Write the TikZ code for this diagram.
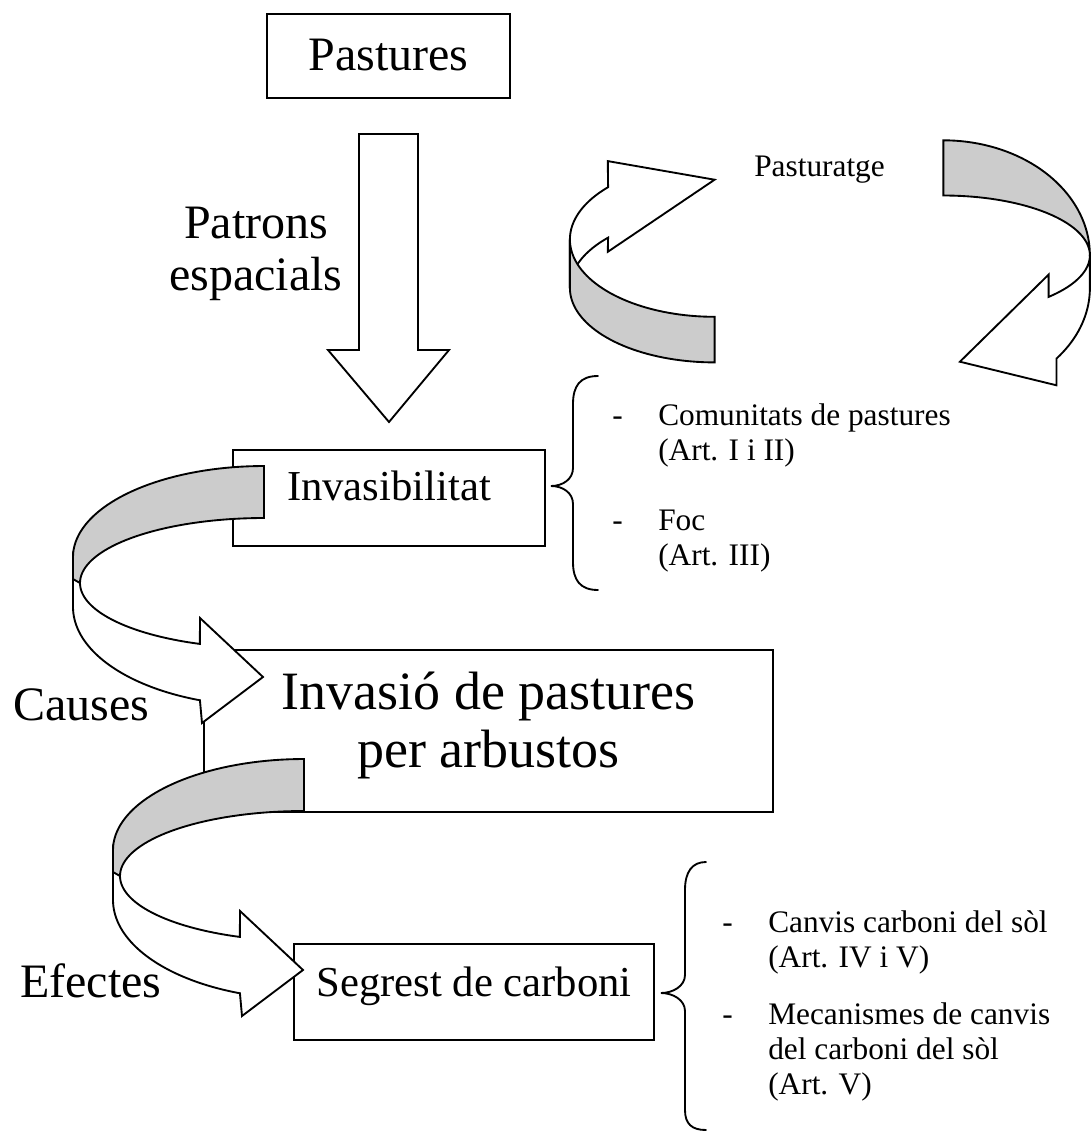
\documentclass[tikz,border=0pt]{standalone}
\usepackage{fontspec}
\setmainfont{Liberation Serif}
\definecolor{bandgray}{HTML}{CCCCCC}
\begin{document}
\begin{tikzpicture}[x=0.75pt,y=-0.75pt,
  boxnode/.style={draw, line width=1.4pt, inner sep=0pt, outer sep=0pt, fill=white},
  bandface/.style={draw, line width=1.4pt, fill=bandgray},
  whiteface/.style={draw, line width=1.4pt, fill=white},
  bracepath/.style={draw, line width=1.4pt, line cap=round},
  bigtxt/.style={font=\fontsize{36}{40}\selectfont, inner sep=0pt, anchor=base},
  hugetxt/.style={font=\fontsize{40.5}{44}\selectfont, inner sep=0pt, anchor=base},
  midtxt/.style={font=\fontsize{32}{36}\selectfont, inner sep=0pt, anchor=base},
  smalltxt/.style={font=\fontsize{23.5}{27}\selectfont, inner sep=0pt, anchor=base west}]
\useasboundingbox (0,0) rectangle (1091,1133);

% boxes
\node[boxnode, minimum width=182.25pt, minimum height=63pt] (pastures) at (388.5,56) {};
\node[boxnode, minimum width=234pt, minimum height=72pt] (invasib) at (389,498) {};
\node[boxnode, minimum width=426.75pt, minimum height=121.5pt] (invasio) at (488.5,731) {};
\node[boxnode, minimum width=270pt, minimum height=72pt] (segrest) at (474,992) {};

% straight block arrow
\draw[whiteface] (359,134) -- (418,134) -- (418,350) -- (449,350) -- (389,422) -- (328,350) -- (359,350) -- cycle;

% left Pasturatge arrow
\draw[whiteface] (607.8,161.1) -- (714.6,179.7) -- (607.8,251.8)
  -- plot[domain=222.6:180, samples=30, variable=\t] ({714.6+144.7*cos(\t)},{288+74.4*sin(\t)})
  -- plot[domain=180:222.6, samples=30, variable=\t] ({714.6+144.7*cos(\t)},{239.5+77.3*sin(\t)})
  -- cycle;
\draw[bandface] plot[domain=180:90, samples=40, variable=\t] ({714.6+144.7*cos(\t)},{239.5+77.3*sin(\t)})
  -- plot[domain=90:180, samples=40, variable=\t] ({714.6+144.7*cos(\t)},{288+74.4*sin(\t)})
  -- cycle;

% right Pasturatge arrow
\draw[bandface] plot[domain=270:360, samples=40, variable=\t] ({943.4+146.5*cos(\t)},{255.3+115*sin(\t)})
  -- plot[domain=360:270, samples=40, variable=\t] ({943.4+146.5*cos(\t)},{255.3+59.8*sin(\t)})
  -- cycle;
\draw[whiteface] (1089.9,255.3)
  -- plot[domain=0:39.5, samples=20, variable=\t] ({943.4+146.5*cos(\t)},{288+111*sin(\t)})
  -- (1056.5,385.3) -- (959.9,361.7) -- (1048.6,274.6)
  -- plot[domain=44.1:0, samples=20, variable=\t] ({943.4+146.5*cos(\t)},{255.3+59.8*sin(\t)})
  -- cycle;

% Causes arrow
\draw[whiteface] (73,557)
  -- plot[domain=180:109.6, samples=40, variable=\t] ({264+191*cos(\t)},{607+99*sin(\t)})
  -- (202,723) -- (263,677) -- (200,618)
  -- plot[domain=110.4:180, samples=40, variable=\t] ({264+184*cos(\t)},{583+65*sin(\t)})
  -- cycle;
\draw[bandface] plot[domain=270:180, samples=40, variable=\t] ({264+191*cos(\t)},{557+91*sin(\t)})
  -- (73,579)
  -- plot[domain=180:270, samples=40, variable=\t] ({264+184*cos(\t)},{583+65*sin(\t)})
  -- cycle;

% Efectes arrow
\draw[whiteface] (113,850)
  -- plot[domain=180:109.6, samples=40, variable=\t] ({304+191*cos(\t)},{900+99*sin(\t)})
  -- (242,1016) -- (303,970) -- (240,911)
  -- plot[domain=110.4:180, samples=40, variable=\t] ({304+184*cos(\t)},{876+65*sin(\t)})
  -- cycle;
\draw[bandface] plot[domain=270:180, samples=40, variable=\t] ({304+191*cos(\t)},{850+91*sin(\t)})
  -- (113,872)
  -- plot[domain=180:270, samples=40, variable=\t] ({304+184*cos(\t)},{876+65*sin(\t)})
  -- cycle;

% braces
\draw[bracepath] (598,376) .. controls (580,376) and (573,386) .. (573,404) -- (573,468)
  .. controls (573,479) and (563,486) .. (551,486) .. controls (563,486) and (573,493) .. (573,504)
  -- (573,562) .. controls (573,580) and (580,590) .. (598,590);
\draw[bracepath] (706,862) .. controls (692,862) and (685,872) .. (685,890) -- (685,975)
  .. controls (685,986) and (673,993) .. (661,993) .. controls (673,993) and (685,1000) .. (685,1011)
  -- (685,1110) .. controls (685,1124) and (692,1130) .. (706,1130);

% texts
\node[bigtxt] (tpast) at (388.5,70) {Pastures};
\node[bigtxt] (tpat1) at (256,238) {Patrons};
\node[bigtxt] (tpat2) at (256,290) {espacials};
\node[smalltxt] (tpastg) at (754,176) {Pasturatge};
\node[midtxt] (tinvb) at (389,500) {Invasibilitat};
\node[bigtxt, anchor=base west] (tcaus) at (13,720) {Causes};
\node[hugetxt] (tinv1) at (488.5,709) {Invasió de pastures};
\node[hugetxt] (tinv2) at (488.5,767) {per arbustos};
\node[bigtxt, anchor=base west] (tefec) at (20,997) {Efectes};
\node[midtxt] (tsegr) at (474,996) {Segrest de carboni};

\node[smalltxt] (d1) at (612,425) {-};
\node[smalltxt] (l1a) at (658,425) {Comunitats de pastures};
\node[smalltxt] (l1b) at (658,460) {(Art. I i II)};
\node[smalltxt] (d2) at (612,530) {-};
\node[smalltxt] (l2a) at (658,530) {Foc};
\node[smalltxt] (l2b) at (658,565) {(Art. III)};

\node[smalltxt] (d3) at (722,932) {-};
\node[smalltxt] (l3a) at (768,932) {Canvis carboni del sòl};
\node[smalltxt] (l3b) at (768,967) {(Art. IV i V)};
\node[smalltxt] (d4) at (722,1024) {-};
\node[smalltxt] (l4a) at (768,1024) {Mecanismes de canvis};
\node[smalltxt] (l4b) at (768,1059) {del carboni del sòl};
\node[smalltxt] (l4c) at (768,1094) {(Art. V)};
\end{tikzpicture}
\end{document}
